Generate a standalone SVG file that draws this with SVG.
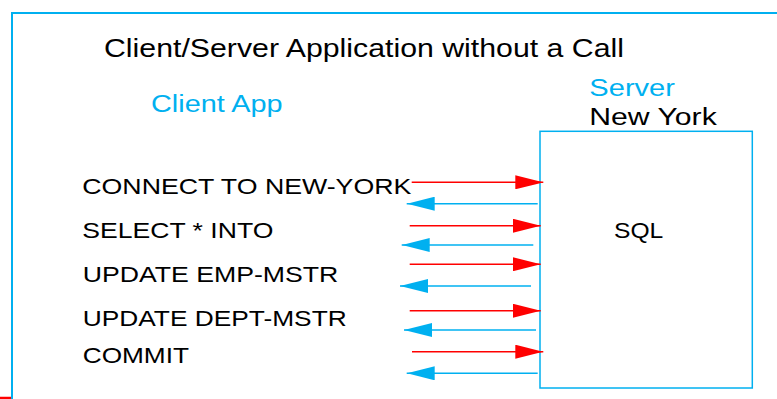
<svg xmlns="http://www.w3.org/2000/svg" width="777" height="399" viewBox="0 0 777 399">
  <style>
    text { font-family: "Liberation Sans", Arial, sans-serif; }
    .title { font-size: 25px; fill: #000; }
    .head { font-size: 24px; fill: #000; }
    .blue { fill: #00B0F0; }
    .cmd { font-size: 22px; fill: #000; }
    .frame { fill: none; stroke: #00B0F0; stroke-width: 2; }
    .box { fill: none; stroke: #00B0F0; stroke-width: 1.5; }
    .req { stroke: #FF0000; stroke-width: 1.5; fill: none; marker-end: url(#headRed); }
    .resp { stroke: #00B0F0; stroke-width: 1.5; fill: none; marker-end: url(#headBlue); }
  </style>
  <defs>
    <marker id="headRed" markerUnits="userSpaceOnUse" markerWidth="28" markerHeight="14" viewBox="0 0 28 14" refX="28" refY="7" orient="auto">
      <path d="M0,0 L28,7 L0,14 Z" fill="#FF0000"/>
    </marker>
    <marker id="headBlue" markerUnits="userSpaceOnUse" markerWidth="28" markerHeight="14" viewBox="0 0 28 14" refX="28" refY="7" orient="auto">
      <path d="M0,0 L28,7 L0,14 Z" fill="#00B0F0"/>
    </marker>
  </defs>
  <rect width="777" height="399" fill="#fff"/>

  <!-- outer frame (runs off the right and bottom edges) -->
  <path class="frame" d="M12,400 L12,13 L790,13"/>
  <line x1="0" y1="398" x2="11" y2="398" stroke="#FF0000" stroke-width="2.5"/>

  <!-- all lettering is set 1.2x wide -->
  <text class="title" transform="translate(104,56.7) scale(1.2,1)" textLength="433.3" lengthAdjust="spacingAndGlyphs">Client/Server Application without a Call</text>

  <g id="client">
    <text class="head blue" transform="translate(151,111.7) scale(1.2,1)" textLength="109.6" lengthAdjust="spacingAndGlyphs">Client App</text>
    <text class="cmd" transform="translate(82.3,194.3) scale(1.2,1)" textLength="274.2" lengthAdjust="spacingAndGlyphs">CONNECT TO NEW-YORK</text>
    <text class="cmd" transform="translate(82.3,237.7) scale(1.2,1)" textLength="159.2" lengthAdjust="spacingAndGlyphs">SELECT * INTO</text>
    <text class="cmd" transform="translate(82.7,281.7) scale(1.2,1)" textLength="213" lengthAdjust="spacingAndGlyphs">UPDATE EMP-MSTR</text>
    <text class="cmd" transform="translate(82.7,326) scale(1.2,1)" textLength="220" lengthAdjust="spacingAndGlyphs">UPDATE DEPT-MSTR</text>
    <text class="cmd" transform="translate(82.7,363.3) scale(1.2,1)" textLength="88.6" lengthAdjust="spacingAndGlyphs">COMMIT</text>
  </g>

  <g id="server">
    <text class="head blue" transform="translate(589.3,96) scale(1.2,1)" textLength="71.4" lengthAdjust="spacingAndGlyphs">Server</text>
    <text class="head" transform="translate(589.3,125) scale(1.2,1)" textLength="106.2" lengthAdjust="spacingAndGlyphs">New York</text>
    <rect class="box" x="540" y="131.3" width="212.3" height="256.7"/>
    <text class="cmd" transform="translate(614,238.3) scale(1.2,1)" textLength="41.1" lengthAdjust="spacingAndGlyphs">SQL</text>
  </g>

  <g id="connectors">
    <line class="req" x1="411.7" y1="182.3" x2="543.3" y2="182.3"/>
    <line class="resp" x1="537.7" y1="203.7" x2="406.7" y2="203.7"/>
    <line class="req" x1="409.7" y1="225.7" x2="540.7" y2="225.7"/>
    <line class="resp" x1="533.3" y1="245" x2="401.7" y2="245"/>
    <line class="req" x1="409.7" y1="264.3" x2="540.7" y2="264.3"/>
    <line class="resp" x1="531" y1="286" x2="400" y2="286"/>
    <line class="req" x1="409.7" y1="310.7" x2="540.7" y2="310.7"/>
    <line class="resp" x1="536" y1="330" x2="404" y2="330"/>
    <line class="req" x1="412" y1="351.7" x2="543.3" y2="351.7"/>
    <line class="resp" x1="537.7" y1="373.3" x2="406.7" y2="373.3"/>
  </g>
</svg>
